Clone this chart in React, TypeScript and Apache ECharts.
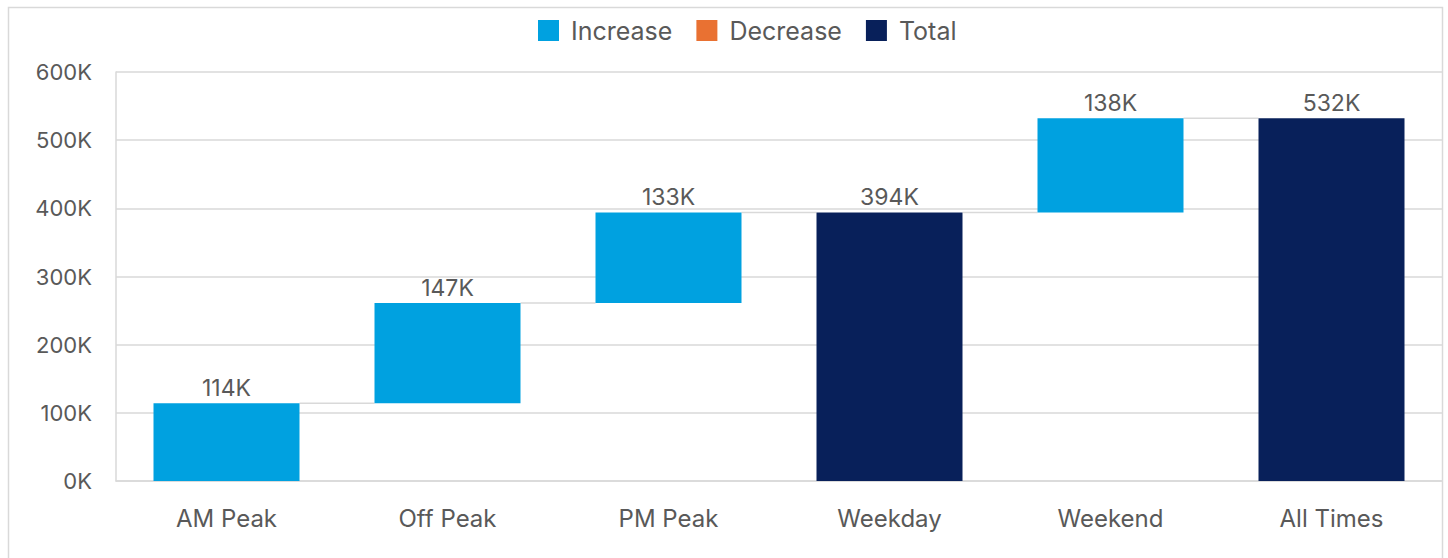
import React, { useEffect, useRef } from "react";
import * as echarts from "echarts";

const categories = ["AM Peak", "Off Peak", "PM Peak", "Weekday", "Weekend", "All Times"];
const increase: (number | null)[] = [114, 147, 133, null, 138, null];
const decrease: (number | null)[] = [null, null, null, null, null, null];
const totals: (number | null)[] = [null, null, null, 394, null, 532];
const yTicks = [0, 100, 200, 300, 400, 500, 600];

const C_INC = "#00A1E0";
const C_DEC = "#E97132";
const C_TOT = "#08205A";
const GRID = "#D9D9D9";
const TXT = "#595959";
const FONT = "Inter, 'Noto Sans', sans-serif";
const BAR_W = 146;

export default function App() {
  const ref = useRef<HTMLDivElement>(null);
  useEffect(() => {
    if (!ref.current) return;
    const chart = echarts.init(ref.current, undefined, { renderer: "svg" });

    const base: number[] = [];
    const tops: number[] = [];
    let run = 0;
    categories.forEach((_, i) => {
      if (totals[i] != null) {
        base.push(0);
        run = totals[i] as number;
        tops.push(run);
      } else if (increase[i] != null) {
        base.push(run);
        run += increase[i] as number;
        tops.push(run);
      } else if (decrease[i] != null) {
        run -= decrease[i] as number;
        base.push(run);
        tops.push(run + (decrease[i] as number));
      } else {
        base.push(run);
        tops.push(run);
      }
    });
    const connectors = tops.slice(0, -1).map((v, i) => [i, v]);

    const label = {
      show: true,
      position: "top" as const,
      distance: 4,
      color: TXT,
      fontSize: 23,
      fontFamily: FONT,
      formatter: (p: any) => `${p.value}K`,
    };

    chart.setOption({
      animation: false,
      textStyle: { fontFamily: FONT },
      graphic: [
        {
          type: "rect",
          shape: { x: 8.5, y: 7.5, width: 1434, height: 570 },
          style: { fill: "none", stroke: GRID, lineWidth: 1.5 },
          silent: true,
          z: -1,
        },
      ],
      legend: {
        data: ["Increase", "Decrease", "Total"],
        left: 533,
        top: 13,
        icon: "rect",
        itemWidth: 21,
        itemHeight: 21,
        itemGap: 24,
        textStyle: { color: TXT, fontSize: 25, fontFamily: FONT, padding: [0, 0, 0, 7] },
      },
      grid: { left: 116, right: 6, top: 72, bottom: 77, containLabel: false },
      xAxis: {
        type: "category",
        data: categories,
        axisLine: { show: true, lineStyle: { color: GRID, width: 1.5 } },
        axisTick: { show: false },
        axisLabel: { color: TXT, fontSize: 24, fontFamily: FONT, margin: 25 },
      },
      yAxis: {
        type: "value",
        min: yTicks[0],
        max: yTicks[yTicks.length - 1],
        interval: 100,
        axisLine: { show: true, lineStyle: { color: GRID, width: 1.5 } },
        axisTick: { show: false },
        splitLine: { lineStyle: { color: GRID, width: 1.5 } },
        axisLabel: {
          color: TXT,
          fontSize: 22,
          fontFamily: FONT,
          margin: 24,
          formatter: (v: number) => `${v}K`,
        },
      },
      series: [
        {
          name: "base",
          type: "bar",
          stack: "wf",
          barWidth: BAR_W,
          itemStyle: { color: "transparent" },
          emphasis: { disabled: true },
          data: base,
          silent: true,
        },
        {
          name: "Increase",
          type: "bar",
          stack: "wf",
          barWidth: BAR_W,
          itemStyle: { color: C_INC },
          label,
          data: increase,
        },
        {
          name: "Decrease",
          type: "bar",
          stack: "wf",
          barWidth: BAR_W,
          itemStyle: { color: C_DEC },
          label,
          data: decrease,
        },
        {
          name: "Total",
          type: "bar",
          stack: "wf",
          barWidth: BAR_W,
          itemStyle: { color: C_TOT },
          label,
          data: totals,
        },
        {
          name: "connector",
          type: "custom",
          silent: true,
          z: 1,
          renderItem: (_params: any, api: any) => {
            const i = api.value(0);
            const v = api.value(1);
            const a = api.coord([i, v]);
            const b = api.coord([i + 1, v]);
            const half = BAR_W / 2;
            return {
              type: "line",
              shape: { x1: a[0] + half, y1: a[1], x2: b[0] - half, y2: b[1] },
              style: { stroke: GRID, lineWidth: 1.5 },
            };
          },
          data: connectors,
        },
      ],
    });
    return () => chart.dispose();
  }, []);
  return (
    <div
      ref={ref}
      style={{ position: "absolute", left: 0, top: 0, width: 1448, height: 558, background: "#fff" }}
    />
  );
}
